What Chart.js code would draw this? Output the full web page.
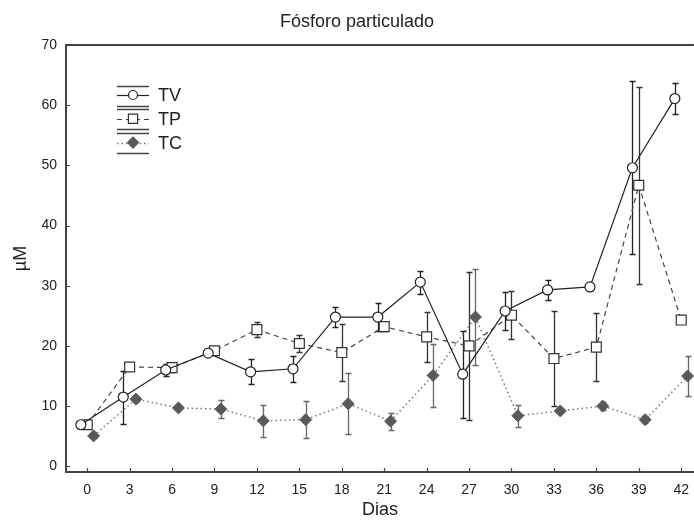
<!DOCTYPE html>
<html>
<head>
<meta charset="utf-8">
<script src="https://cdn.jsdelivr.net/npm/chart.js@4.4.0/dist/chart.umd.min.js"></script>
<style>
  html, body { margin: 0; padding: 0; background: #fff; overflow: hidden; }
  #wrap { width: 694px; height: 524px; overflow: hidden; }
  canvas { display: block; }
</style>
</head>
<body>
<div id="wrap"><canvas id="chart" width="699" height="524"></canvas></div>
<script>
// dias de coleta e valores
const days = [0, 3, 6, 9, 12, 15, 18, 21, 24, 27, 30, 33, 36, 39, 42];
const yTicks = [0, 10, 20, 30, 40, 50, 60, 70];
const chartTitle = 'Fósforo particulado';

const tvMean = [6.9, 11.5, 16.0, 18.8, 15.7, 16.2, 24.8, 24.8, 30.6, 15.3, 25.8, 29.3, 29.8, 49.6, 61.1];
const tvErr  = [0.3, 4.4, 1.0, 0.3, 2.1, 2.2, 1.7, 2.3, 1.9, 7.2, 3.2, 1.6, 0.5, 14.4, 2.6];
const tpMean = [6.9, 16.5, 16.4, 19.2, 22.7, 20.4, 18.9, 23.2, 21.5, 20.0, 25.1, 17.9, 19.8, 46.7, 24.3];
const tpErr  = [0.3, 0.5, 0.8, 0.3, 1.25, 1.45, 4.7, 0.8, 4.2, 12.3, 4.0, 7.9, 5.7, 16.4, 0.5];
const tcMean = [5.05, 11.15, 9.7, 9.5, 7.55, 7.75, 10.4, 7.5, 15.1, 24.8, 8.4, 9.2, 10.0, 7.75, 15.0];
const tcErr  = [0.3, 0.4, 0.4, 1.55, 2.7, 3.05, 5.1, 1.4, 5.2, 7.9, 1.8, 0.4, 0.7, 0.6, 3.25];

const seriesNames = ['TV', 'TP', 'TC'];
const offsets = [-0.45, 0, 0.45];

Chart.defaults.font.family = '"Liberation Sans", Arial, sans-serif';
Chart.defaults.color = '#222';

const toPoints = (mean, k) => mean.map((v, i) => ({ x: days[i] + offsets[k], y: v }));

const errorBars = {
  id: 'errorBars',
  beforeDatasetsDraw(chart) {
    const { ctx, scales: { x, y } } = chart;
    ctx.save();
    chart.data.datasets.forEach(ds => {
      ctx.strokeStyle = ds.errColor;
      ctx.lineWidth = 1.3;
      ds.data.forEach((p, j) => {
        const e = ds.err[j];
        if (!e) return;
        const px = Math.round(x.getPixelForValue(p.x)) + 0.5;
        const top = Math.round(y.getPixelForValue(p.y + e)) + 0.5;
        const bot = Math.round(y.getPixelForValue(p.y - e)) + 0.5;
        ctx.beginPath();
        ctx.moveTo(px, top); ctx.lineTo(px, bot);
        ctx.moveTo(px - 3, top); ctx.lineTo(px + 3, top);
        ctx.moveTo(px - 3, bot); ctx.lineTo(px + 3, bot);
        ctx.stroke();
      });
    });
    ctx.restore();
  }
};

const frame = {
  id: 'frame',
  afterDraw(chart) {
    const { ctx, chartArea: a, scales: { x, y } } = chart;
    ctx.save();
    // titulo
    ctx.fillStyle = '#222';
    ctx.font = '18px "Liberation Sans", Arial, sans-serif';
    ctx.textAlign = 'center';
    ctx.textBaseline = 'alphabetic';
    ctx.fillText(chartTitle, 357, 27);
    ctx.textAlign = 'left';

    ctx.strokeStyle = '#444';
    ctx.lineWidth = 2;
    ctx.beginPath();
    ctx.moveTo(a.left, a.top); ctx.lineTo(a.right, a.top);
    ctx.stroke();
    ctx.lineWidth = 1.2;
    ctx.beginPath();
    days.forEach(d => {
      const px = Math.round(x.getPixelForValue(d)) + 0.5;
      ctx.moveTo(px, a.bottom); ctx.lineTo(px, a.bottom - 4);
    });
    yTicks.forEach(v => {
      const py = Math.round(y.getPixelForValue(v)) + 0.5;
      ctx.moveTo(a.left, py); ctx.lineTo(a.left + 4, py);
    });
    ctx.stroke();

    // legenda
    chart.data.datasets.forEach((ds, i) => {
      const yc = a.top + 50 + i * 23.8;
      const x0 = a.left + 51, x1 = a.left + 83, xm = a.left + 67;
      ctx.strokeStyle = '#444';
      ctx.lineWidth = 1.4;
      ctx.setLineDash([]);
      ctx.beginPath();
      ctx.moveTo(x0, Math.round(yc - 9.5) + 0.5); ctx.lineTo(x1, Math.round(yc - 9.5) + 0.5);
      ctx.moveTo(x0, Math.round(yc + 10.5) + 0.5); ctx.lineTo(x1, Math.round(yc + 10.5) + 0.5);
      ctx.stroke();
      ctx.strokeStyle = ds.borderColor;
      ctx.lineWidth = ds.borderWidth;
      ctx.setLineDash(ds.borderDash || []);
      ctx.beginPath();
      ctx.moveTo(x0, Math.round(yc) + 0.5); ctx.lineTo(x1, Math.round(yc) + 0.5);
      ctx.stroke();
      ctx.setLineDash([]);
      ctx.fillStyle = ds.pointBackgroundColor;
      ctx.strokeStyle = ds.pointBorderColor;
      ctx.lineWidth = 1.2;
      Chart.helpers.drawPoint(ctx, { pointStyle: ds.pointStyle, radius: ds.pointRadius - 0.5, rotation: 0, borderWidth: 1.2 }, xm, yc);
      ctx.fillStyle = '#222';
      ctx.font = '18px "Liberation Sans", Arial, sans-serif';
      ctx.textBaseline = 'middle';
      ctx.fillText(seriesNames[i], a.left + 92, yc + 1);
    });
    ctx.restore();
  }
};

new Chart(document.getElementById('chart'), {
  type: 'line',
  data: {
    datasets: [
      {
        label: seriesNames[0], data: toPoints(tvMean, 0), err: tvErr, errColor: '#222',
        borderColor: '#222', borderWidth: 1.2,
        pointStyle: 'circle', pointRadius: 5, pointBackgroundColor: '#fff', pointBorderColor: '#222', pointBorderWidth: 1.2
      },
      {
        label: seriesNames[1], data: toPoints(tpMean, 1), err: tpErr, errColor: '#333',
        borderColor: '#444', borderWidth: 1.2, borderDash: [5, 4],
        pointStyle: 'rect', pointRadius: 7, pointBackgroundColor: '#fff', pointBorderColor: '#333', pointBorderWidth: 1.2
      },
      {
        label: seriesNames[2], data: toPoints(tcMean, 2), err: tcErr, errColor: '#666',
        borderColor: '#777', borderWidth: 1.5, borderDash: [1.5, 3],
        pointStyle: 'rectRot', pointRadius: 6, pointBackgroundColor: '#595959', pointBorderColor: '#595959', pointBorderWidth: 1
      }
    ]
  },
  options: {
    responsive: false,
    devicePixelRatio: 1,
    animation: false,
    layout: { autoPadding: false, padding: { top: 45, right: 0, bottom: 0, left: 0 } },
    plugins: {
      legend: { display: false },
      tooltip: { enabled: false },
      title: { display: false }
    },
    scales: {
      x: {
        type: 'linear', min: -1.5, max: 42.9,
        afterFit: s => { s.height = 52; },
        afterBuildTicks: s => { s.ticks = days.map(v => ({ value: v })); },
        grid: { display: false, drawTicks: false },
        border: { display: true, color: '#444', width: 2 },
        ticks: { font: { size: 14 }, color: '#222', padding: 10, maxRotation: 0, autoSkip: false },
        title: { display: true, text: 'Dias', font: { size: 18 }, color: '#222', padding: { top: 0, bottom: 3 } }
      },
      y: {
        min: -0.95, max: 70,
        afterFit: s => { s.width = 66; },
        afterBuildTicks: s => { s.ticks = yTicks.map(v => ({ value: v })); },
        grid: { display: false, drawTicks: false },
        border: { display: true, color: '#444', width: 2 },
        ticks: { font: { size: 14 }, color: '#222', padding: 9 },
        title: { display: true, text: 'µM', font: { size: 18 }, color: '#222', padding: { top: 10, bottom: 0 } }
      }
    }
  },
  plugins: [errorBars, frame]
});
</script>
</body>
</html>
